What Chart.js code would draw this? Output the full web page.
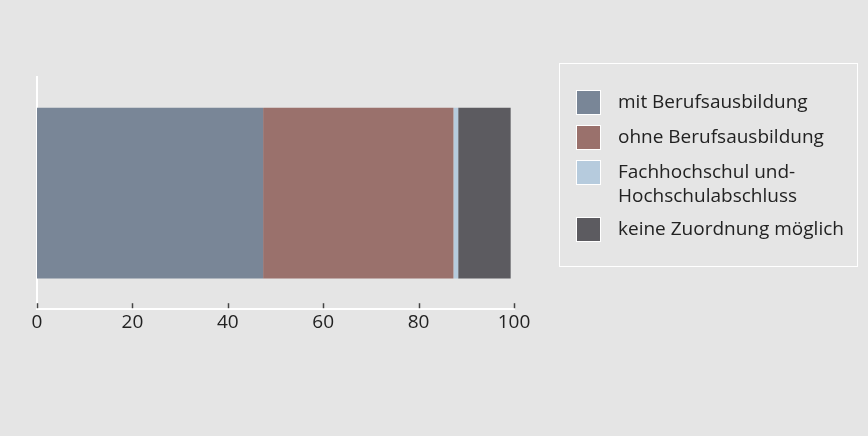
<!DOCTYPE html>
<html>
<head>
<meta charset="utf-8">
<script src="https://cdn.jsdelivr.net/npm/chart.js@4/dist/chart.umd.min.js"></script>
<style>
  html, body { margin: 0; padding: 0; background: #e5e5e5; }
  #wrap { position: relative; width: 868px; height: 436px; font-family: "Open Sans", sans-serif; }
  #chart { position: absolute; left: 0; top: 0; }
  #legend {
    position: absolute; left: 559px; top: 63px; width: 297px; height: 202px;
    border: 1px solid #fff; box-sizing: content-box;
  }
  .item { position: absolute; left: 16px; font-size: 19px; color: #222; line-height: 24px; }
  .sw {
    position: absolute; left: 0; top: 0; width: 23px; height: 23px;
    border: 1px solid #fff;
  }
  .txt { position: absolute; left: 42px; top: -1px; white-space: nowrap; }
</style>
</head>
<body>
<div id="wrap">
  <canvas id="chart" width="868" height="436"></canvas>
  <div id="legend"></div>
</div>
<script>
const categories = [''];
const seriesLabels = ['mit Berufsausbildung', 'ohne Berufsausbildung', 'Fachhochschul und-\nHochschulabschluss', 'keine Zuordnung möglich'];
const seriesValues = [[47.4], [39.9], [1], [11]];
const seriesColors = ['#798697', '#9a716c', '#b6cbdd', '#5c5b60'];
const xTicks = [0, 20, 40, 60, 80, 100];

// short dark ticks drawn upward from the axis line
const innerTicks = {
    id: 'innerTicks',
    afterDraw(chart) {
        const x = chart.scales.x;
        const ctx = chart.ctx;
        ctx.save();
        ctx.strokeStyle = '#444';
        ctx.lineWidth = 1.5;
        xTicks.forEach(v => {
            const px = Math.round(x.getPixelForValue(v)) + 0.5;
            ctx.beginPath();
            ctx.moveTo(px, x.top - 1);
            ctx.lineTo(px, x.top - 6);
            ctx.stroke();
        });
        ctx.restore();
    }
};

const chart = new Chart(document.getElementById('chart'), {
    type: 'bar',
    data: {
        labels: categories,
        datasets: seriesLabels.map((label, i) => ({
            label: label,
            data: seriesValues[i],
            backgroundColor: seriesColors[i],
            borderWidth: 0,
            categoryPercentage: 1,
            barPercentage: 0.735
        }))
    },
    options: {
        indexAxis: 'y',
        responsive: false,
        animation: false,
        layout: { padding: { left: 37, right: 354, top: 77, bottom: 100 } },
        plugins: {
            legend: { display: false },
            tooltip: { enabled: false }
        },
        scales: {
            x: {
                stacked: true,
                min: 0,
                max: 100,
                afterBuildTicks: axis => { axis.ticks = xTicks.map(v => ({ value: v })); },
                grid: { display: false, drawTicks: false },
                border: { display: true, color: '#ffffff', width: 2 },
                ticks: {
                    color: '#222',
                    padding: 2,
                    font: { family: 'Open Sans', size: 19 }
                }
            },
            y: {
                stacked: true,
                grid: { display: false, drawTicks: false },
                border: { display: true, color: '#ffffff', width: 2 },
                ticks: { display: false }
            }
        }
    },
    plugins: [innerTicks]
});

// legend built from the datasets
const legend = document.getElementById('legend');
const rowTops = [26, 61, 96, 153];
chart.data.datasets.forEach((ds, i) => {
    const item = document.createElement('div');
    item.className = 'item';
    item.style.top = rowTops[i] + 'px';
    const sw = document.createElement('div');
    sw.className = 'sw';
    sw.style.background = ds.backgroundColor;
    const txt = document.createElement('div');
    txt.className = 'txt';
    txt.innerHTML = ds.label.split('\n').join('<br>');
    item.appendChild(sw);
    item.appendChild(txt);
    legend.appendChild(item);
});
</script>
</body>
</html>
